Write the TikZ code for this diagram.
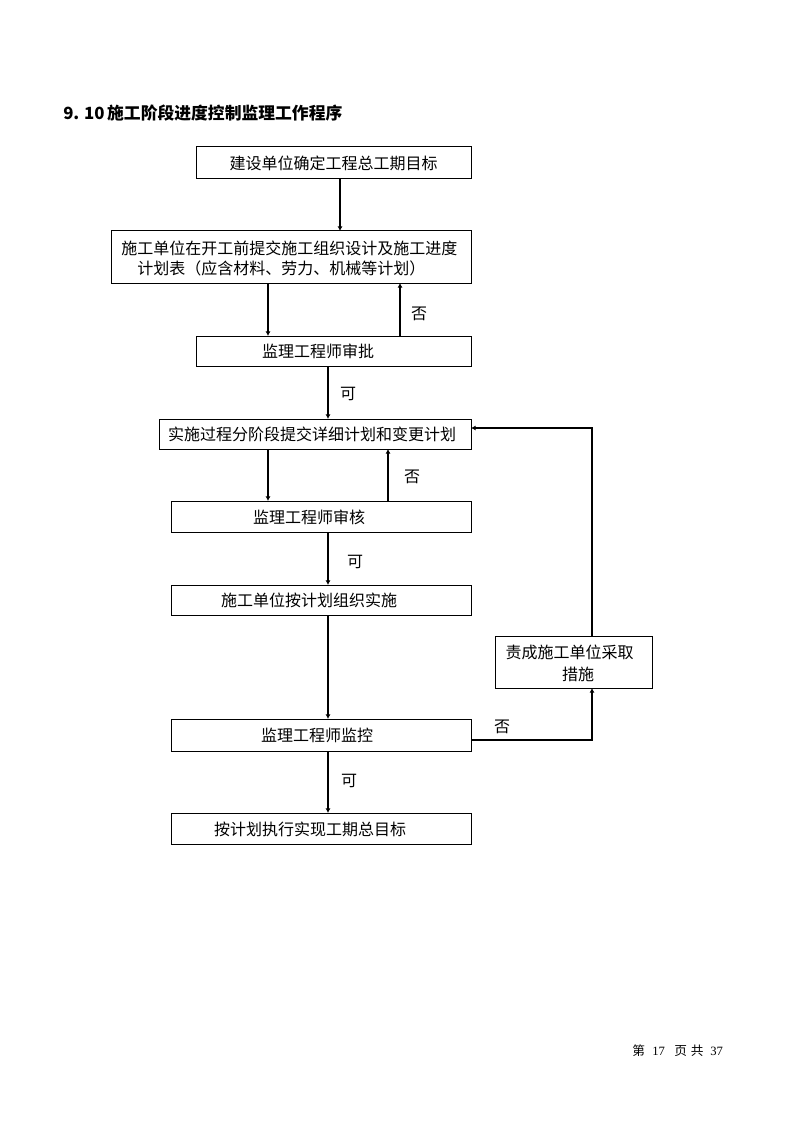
\documentclass[tikz,border=0pt]{standalone}
\usepackage{fontspec}
\newfontfamily\cjk{Noto Sans CJK SC}
\newfontfamily\numfont{Liberation Serif}
\usetikzlibrary{arrows.meta}
\begin{document}
\begin{tikzpicture}[x=0.75pt,y=-0.75pt,
  box/.style={draw, line width=0.75pt, inner sep=0pt, outer sep=0pt},
  txt/.style={font=\cjk\fontsize{12pt}{14pt}\selectfont, inner sep=0pt},
  lbl/.style={font=\cjk\fontsize{12pt}{14pt}\selectfont, inner sep=0pt},
  arr/.style={line width=1.5pt, -{Latex[length=3.5pt,width=3.8pt]}},
  fb/.style={line width=1pt, -{Latex[length=3.5pt,width=3.8pt]}}]
\useasboundingbox (0,0) rectangle (794,1123);

% title
\node[anchor=west, inner sep=0pt, font=\cjk\bfseries\fontsize{12.6pt}{14pt}\selectfont] (title) at (63,113) {9.\hspace{3.5pt}10\hspace{2pt}施工阶段进度控制监理工作程序};

% boxes
\node[box, minimum width=206.25pt, minimum height=24pt] (b1) at (333.5,163) {};
\node[box, minimum width=270pt, minimum height=39pt] (b2) at (291,257) {};
\node[box, minimum width=206.25pt, minimum height=22.5pt] (b3) at (333.5,351) {};
\node[box, minimum width=234pt, minimum height=22.5pt] (b4) at (315,434) {};
\node[box, minimum width=225pt, minimum height=23.25pt] (b5) at (321,516.5) {};
\node[box, minimum width=225pt, minimum height=22.5pt] (b6) at (321,600) {};
\node[box, minimum width=225pt, minimum height=24pt] (b7) at (321,735) {};
\node[box, minimum width=225pt, minimum height=23.25pt] (b8) at (321,828.5) {};
\node[box, minimum width=117.75pt, minimum height=39pt] (b9) at (573.5,662) {};

% texts
\node[txt] (t1) at (333.5,163) {建设单位确定工程总工期目标};
\node[txt, anchor=west] (t2a) at (121,248) {施工单位在开工前提交施工组织设计及施工进度};
\node[txt, anchor=west] (t2b) at (137,268) {计划表（应含材料、劳力、机械等计划）};
\node[txt] (t3) at (318,351) {监理工程师审批};
\node[txt] (t4) at (312,434) {实施过程分阶段提交详细计划和变更计划};
\node[txt] (t5) at (309,517) {监理工程师审核};
\node[txt] (t6) at (309,600) {施工单位按计划组织实施};
\node[txt] (t7) at (317,735) {监理工程师监控};
\node[txt] (t8) at (310,829) {按计划执行实现工期总目标};
\node[txt] (t9a) at (569.5,652) {责成施工单位采取};
\node[txt] (t9b) at (578,674) {措施};

% column / row helpers
\coordinate (x340) at (340,0);
\coordinate (x268) at (268,0);
\coordinate (x400) at (400,0);
\coordinate (x328) at (328,0);
\coordinate (x388) at (388,0);
\coordinate (x592) at (592,0);
\coordinate (y428) at (0,428);
\coordinate (y740) at (0,740);

% connectors
\draw[arr] (b1.south -| x340) -- (b2.north -| x340);
\draw[arr] (b2.south -| x268) -- (b3.north -| x268);
\draw[arr] (b3.north -| x400) -- (b2.south -| x400);
\draw[arr] (b3.south -| x328) -- (b4.north -| x328);
\draw[arr] (b4.south -| x268) -- (b5.north -| x268);
\draw[arr] (b5.north -| x388) -- (b4.south -| x388);
\draw[arr] (b5.south -| x328) -- (b6.north -| x328);
\draw[arr] (b6.south -| x328) -- (b7.north -| x328);
\draw[arr] (b7.south -| x328) -- (b8.north -| x328);
\draw[fb] (b7.east |- y740) -| (b9.south -| x592);
\draw[fb] (b9.north -| x592) |- (b4.east |- y428);

% labels
\node[lbl] (l1) at (419,314) {否};
\node[lbl] (l2) at (348,394) {可};
\node[lbl] (l3) at (412,477) {否};
\node[lbl] (l4) at (355,562) {可};
\node[lbl] (l5) at (502,727) {否};
\node[lbl] (l6) at (349,781) {可};

% footer
\node[anchor=west, inner sep=0pt, font=\cjk\fontsize{9.5pt}{11pt}\selectfont] (footer) at (632,1051) {第\hspace{5.5pt}{\numfont 17}\hspace{7pt}页\hspace{3pt}共\hspace{5pt}{\numfont 37}};
\end{tikzpicture}
\end{document}
